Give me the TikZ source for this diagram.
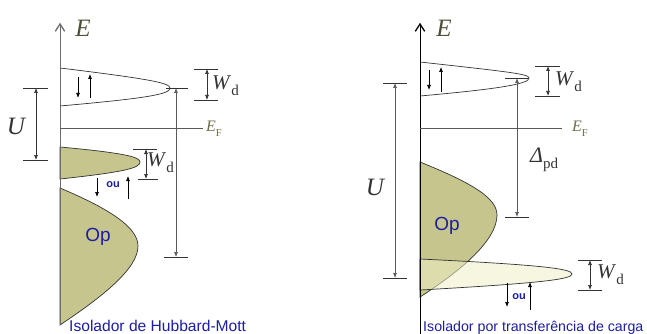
\documentclass[tikz,border=0pt]{standalone}
\usepackage{fontspec}
\setmainfont{Liberation Serif}
\newfontfamily\capfont{Liberation Sans}
\usetikzlibrary{arrows.meta}
\definecolor{olivefill}{HTML}{C5C58D}
\definecolor{lightfill}{HTML}{EFEFC9}
\definecolor{capblue}{HTML}{1E1EA0}
\definecolor{eolive}{HTML}{50503A}
\definecolor{efolive}{HTML}{6E6E48}
\definecolor{lblgray}{HTML}{333333}
\newcommand{\mysub}[1]{\raisebox{-0.3em}{\fontsize{15}{15}\selectfont #1}}
\begin{document}
\begin{tikzpicture}[x=1pt,y=-1pt,
  axisline/.style={draw=gray!85!black,line width=0.9pt},
  axishead/.style={draw=gray!85!black,line width=1.3pt,line cap=round,line join=miter},
  thinline/.style={draw=gray!70!black,line width=0.7pt},
  tickline/.style={draw=gray!40!black,line width=0.7pt},
  dimarr/.style={draw=gray!40!black,line width=0.7pt,{Latex[length=5pt,width=4pt]}-{Latex[length=5pt,width=4pt]}},
  onearr/.style={draw=black,line width=0.7pt,-{Latex[length=5pt,width=4pt]}},
  bandline/.style={draw=black!80,line width=0.7pt},
  biglbl/.style={font=\fontsize{25}{25}\selectfont\itshape,text=lblgray,inner sep=0pt},
  elbl/.style={font=\fontsize{25}{25}\selectfont\itshape,text=eolive,inner sep=0pt},
  eflbl/.style={font=\fontsize{16}{16}\selectfont,text=efolive,inner sep=0pt,anchor=west},
  wlbl/.style={font=\fontsize{21}{21}\selectfont,text=lblgray,inner sep=0pt,anchor=west},
  oplbl/.style={font=\capfont\fontsize{19}{19}\selectfont,text=capblue,inner sep=0pt},
  oulbl/.style={font=\capfont\bfseries\fontsize{11}{11}\selectfont,text=capblue,inner sep=0pt},
  caplbl/.style={font=\capfont,text=capblue,inner sep=0pt,anchor=base west}]
\useasboundingbox[fill=white] (0,0) rectangle (647,334);

%================ LEFT PANEL =================
% bands
\draw[bandline,fill=olivefill] (60,188) .. controls (112,210) and (138,228) .. (138,246)
   .. controls (138,268) and (105,295) .. (60,325) -- cycle;
\draw[bandline,fill=olivefill] (60,147) .. controls (125,153) and (140,157) .. (140,162)
   .. controls (140,168) and (125,172) .. (60,179) -- cycle;
\draw[bandline] (60,68) .. controls (150,79) and (170,83) .. (170,88)
   .. controls (170,94) and (150,98) .. (60,106);
% axis
\coordinate (lab) at (60,325);
\coordinate (lat) at (60,24);
\coordinate (lhl) at (55.5,31);
\coordinate (lhr) at (64.5,31);
\draw[axisline] (lab) -- (lat);
\draw[axishead] (lhl) -- (lat) -- (lhr);
\node[elbl] (lE) at (83,28) {E};
% Fermi line
\coordinate (lfa) at (60,128);
\coordinate (lfb) at (203,128);
\draw[thinline] (lfa) -- (lfb);
\node[eflbl] (lEF) at (206,129) {\textit{E}\mysub{\fontsize{10.5}{10.5}\selectfont F}};
% spin arrows upper band
\coordinate (la1) at (78,77); \coordinate (la2) at (78,98);
\coordinate (la3) at (90,98); \coordinate (la4) at (90,74);
\draw[onearr] (la1) -- (la2);
\draw[onearr] (la3) -- (la4);
% Wd upper
\coordinate (lw1a) at (194,69); \coordinate (lw1b) at (218,69);
\coordinate (lw2a) at (194,100); \coordinate (lw2b) at (218,100);
\draw[tickline] (lw1a) -- (lw1b);
\draw[tickline] (lw2a) -- (lw2b);
\coordinate (lwt) at (207,69); \coordinate (lwb) at (207,100);
\draw[dimarr] (lwt) -- (lwb);
\node[wlbl] (lWd1) at (212,86) {\textit{W}\mysub{d}};
% U
\coordinate (lu1a) at (23,88); \coordinate (lu1b) at (48,88);
\coordinate (lu2a) at (23,160); \coordinate (lu2b) at (48,160);
\draw[tickline] (lu1a) -- (lu1b);
\draw[tickline] (lu2a) -- (lu2b);
\coordinate (lut) at (36,88); \coordinate (lub) at (36,160);
\draw[dimarr] (lut) -- (lub);
\node[biglbl] (lU) at (16,126) {U};
% long arrow
\coordinate (ll1a) at (166,88); \coordinate (ll1b) at (188,88);
\coordinate (ll2a) at (164,257); \coordinate (ll2b) at (188,257);
\draw[tickline] (ll1a) -- (ll1b);
\draw[tickline] (ll2a) -- (ll2b);
\coordinate (llt) at (176,88); \coordinate (llb) at (176,257);
\draw[dimarr,draw=gray!70!black] (llt) -- (llb);
% Wd lower
\coordinate (lw3a) at (133,149); \coordinate (lw3b) at (157,149);
\coordinate (lw4a) at (138,179); \coordinate (lw4b) at (158,179);
\draw[tickline] (lw3a) -- (lw3b);
\draw[tickline] (lw4a) -- (lw4b);
\coordinate (lwt2) at (146,149); \coordinate (lwb2) at (146,179);
\draw[dimarr] (lwt2) -- (lwb2);
\node[wlbl] (lWd2) at (147,163) {\textit{W}\mysub{d}};
% ou
\coordinate (lo1) at (97,178); \coordinate (lo2) at (97,197);
\coordinate (lo3) at (128,199); \coordinate (lo4) at (128,176);
\draw[onearr] (lo1) -- (lo2);
\draw[onearr] (lo3) -- (lo4);
\node[oulbl] (lou) at (113,185) {ou};
\node[oplbl] (lOp) at (98,237) {Op};
\node[caplbl,font=\capfont\fontsize{15.6}{15.6}\selectfont] (lcap) at (69,331) {Isolador de Hubbard-Mott};

%================ RIGHT PANEL =================
\draw[bandline,fill=olivefill] (420,162) .. controls (472,183) and (497,198) .. (497,215)
   .. controls (497,240) and (462,270) .. (420,297) -- cycle;
\draw[bandline,fill=lightfill,fill opacity=0.55] (420,259) .. controls (545,265) and (572,269) .. (572,274)
   .. controls (572,279) and (545,283) .. (420,290) -- cycle;
\draw[bandline] (420,62) .. controls (510,72) and (529,74) .. (529,78)
   .. controls (529,83) and (510,88) .. (420,96);
\coordinate (rab) at (420,334);
\coordinate (rat) at (420,24);
\coordinate (rhl) at (415.5,31);
\coordinate (rhr) at (424.5,31);
\draw[axisline,draw=black] (rab) -- (rat);
\draw[axishead,draw=black] (rhl) -- (rat) -- (rhr);
\node[elbl] (rE) at (444,28) {E};
\coordinate (rfa) at (420,128);
\coordinate (rfb) at (562,128);
\draw[thinline] (rfa) -- (rfb);
\node[eflbl] (rEF) at (572,129) {\textit{E}\mysub{\fontsize{10.5}{10.5}\selectfont F}};
\coordinate (ra1) at (429,70); \coordinate (ra2) at (429,90);
\coordinate (ra3) at (441,92); \coordinate (ra4) at (441,67);
\draw[onearr] (ra1) -- (ra2);
\draw[onearr] (ra3) -- (ra4);
% Wd upper
\coordinate (rw1a) at (535,66); \coordinate (rw1b) at (560,66);
\coordinate (rw2a) at (535,96); \coordinate (rw2b) at (560,96);
\draw[tickline] (rw1a) -- (rw1b);
\draw[tickline] (rw2a) -- (rw2b);
\coordinate (rwt) at (548,66); \coordinate (rwb) at (548,96);
\draw[dimarr] (rwt) -- (rwb);
\node[wlbl] (rWd1) at (555,82) {\textit{W}\mysub{d}};
% Delta pd arrow
\coordinate (rd1a) at (505,78); \coordinate (rd1b) at (528,78);
\coordinate (rd2a) at (505,217); \coordinate (rd2b) at (529,217);
\draw[tickline] (rd1a) -- (rd1b);
\draw[tickline] (rd2a) -- (rd2b);
\coordinate (rdt) at (517,78); \coordinate (rdb) at (517,217);
\draw[dimarr,draw=gray!70!black] (rdt) -- (rdb);
\node[wlbl,font=\fontsize{22}{22}\selectfont] (rDelta) at (530,160) {\textit{Δ}\mysub{pd}};
% U
\coordinate (ru1a) at (383,83); \coordinate (ru1b) at (407,83);
\coordinate (ru2a) at (383,278); \coordinate (ru2b) at (407,278);
\draw[tickline] (ru1a) -- (ru1b);
\draw[tickline] (ru2a) -- (ru2b);
\coordinate (rut) at (395,83); \coordinate (rub) at (395,278);
\draw[dimarr,draw=gray!70!black] (rut) -- (rub);
\node[biglbl] (rU) at (375,187) {U};
% Wd lower
\coordinate (rw3a) at (578,260); \coordinate (rw3b) at (602,260);
\coordinate (rw4a) at (578,290); \coordinate (rw4b) at (602,290);
\draw[tickline] (rw3a) -- (rw3b);
\draw[tickline] (rw4a) -- (rw4b);
\coordinate (rwt2) at (590,260); \coordinate (rwb2) at (590,290);
\draw[dimarr] (rwt2) -- (rwb2);
\node[wlbl] (rWd2) at (597,275) {\textit{W}\mysub{d}};
% ou
\coordinate (ro1) at (507,283); \coordinate (ro2) at (507,307);
\coordinate (ro3) at (530,310); \coordinate (ro4) at (530,282);
\draw[onearr] (ro1) -- (ro2);
\draw[onearr] (ro3) -- (ro4);
\node[oulbl] (rou) at (519,297) {ou};
\node[oplbl] (rOp) at (447,226) {Op};
\node[caplbl,font=\capfont\fontsize{14.2}{14.2}\selectfont] (rcap) at (423,331) {Isolador por transferência de carga};
\end{tikzpicture}
\end{document}
